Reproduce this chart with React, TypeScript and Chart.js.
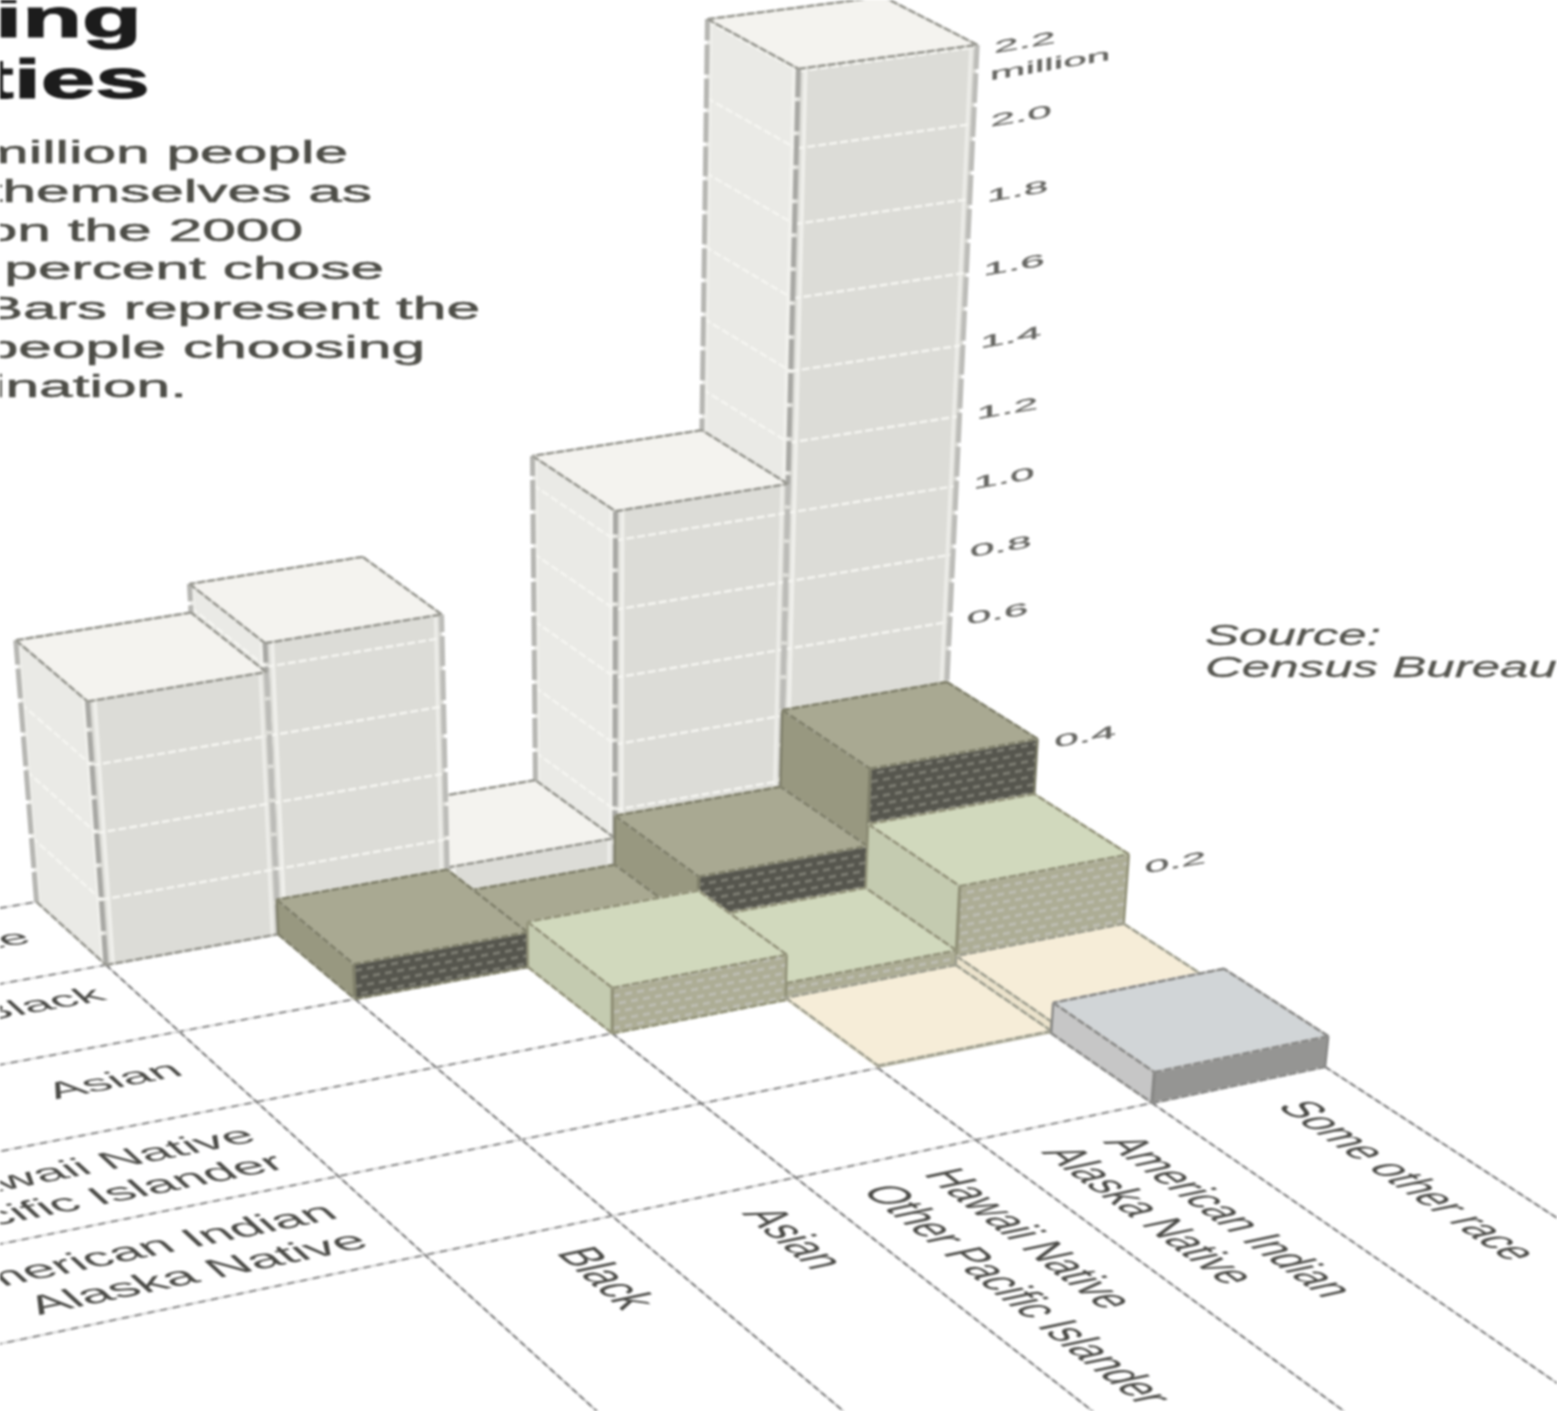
import React, { useEffect, useRef } from "react";
import { Chart, registerables } from "chart.js";

Chart.register(...registerables);

// ---------- data (millions of people) ----------
const rowCategories = ["White", "Black", "Asian", "Hawaii Native|Other Pacific Islander", "American Indian|Alaska Native"];
const columnCategories = ["Black", "Asian", "Hawaii Native|Other Pacific Islander", "American Indian|Alaska Native", "Some other race"];
const whiteValues = [0.785, 0.868, 0.113, 1.083, 2.206];
const blackValues = [null, 0.107, 0.03, 0.182, 0.417];
const asianValues = [null, null, 0.139, 0.052, 0.249];
const hawaiiValues = [null, null, null, 0.007, 0.035];
const amIndianValues = [null, null, null, null, 0.094];
const tickValues = [0.2, 0.4, 0.6, 0.8, 1.0, 1.2, 1.4, 1.6, 1.8, 2.0, 2.2];
const titleLines = ["ing", "ties"];
const bodyLines = ["million people", "themselves as", "on the 2000", "percent chose", "Bars represent the", "people choosing", "combination."];
const sourceLines = ["Source:", "Census Bureau"];

const rowValues = [whiteValues, blackValues, asianValues, hawaiiValues, amIndianValues];

// ---------- styles per row ----------
const rowStyles = [
  { top: "#f4f3ef", left: "#eaeae6", right: "#dcdcd7", edge: "#96968f", under: "#c6c6c0", dot: null },
  { top: "#a9a992", left: "#989880", right: "#56564e", edge: "#7f7f6a", under: "#a3a390", dot: "#7c7c72" },
  { top: "#d1d9bd", left: "#c4cbb0", right: "#adad95", edge: "#929279", under: "#b8baa4", dot: "#bdbdb2" },
  { top: "#f6edd8", left: "#ece3cc", right: "#aaa893", edge: "#9d9d8e", under: "#c4c2b0", dot: null },
  { top: "#d1d5d7", left: "#c6c6c6", right: "#959593", edge: "#888886", under: "#b4b4b2", dot: null },
];

// ---------- camera: floor homography + vertical vanishing point ----------
const floorCorners = [[106, 965], [779, 845], [1152, 1103], [425, 1255]]; // (c,r) = (0,1),(4,1),(4,5),(0,5)
const vanish = [600, 8000];
const heightGain = 0.046;
const depthDamp = 0.6;
const heightCurve = 1.0;
const columnWarp = 0.007;

function makeHomography(q: number[][]) {
  const [[x0, y0], [x1, y1], [x2, y2], [x3, y3]] = q;
  const dx1 = x1 - x2, dx2 = x3 - x2, sx = x0 - x1 + x2 - x3;
  const dy1 = y1 - y2, dy2 = y3 - y2, sy = y0 - y1 + y2 - y3;
  const den = dx1 * dy2 - dx2 * dy1;
  const g = (sx * dy2 - dx2 * sy) / den, h = (dx1 * sy - sx * dy1) / den;
  const a = x1 - x0 + g * x1, b = x3 - x0 + h * x3, d = y1 - y0 + g * y1, e = y3 - y0 + h * y3;
  return (u: number, v: number) => {
    const w = g * u + h * v + 1;
    return [(a * u + b * v + x0) / w, (d * u + e * v + y0) / w, w];
  };
}
const unitFloor = makeHomography(floorCorners);
const floor = (c: number, r: number) => unitFloor((c + columnWarp * c * (c - 4)) / 4, (r - 1) / 4);
function project(c: number, r: number, v = 0) {
  const [x, y, w] = floor(c, r);
  const k = (v * heightGain) / (1 + depthDamp * (w - 1));
  const t = k / (1 - heightCurve * k);
  return { x: x + (x - vanish[0]) * t, y: y + (y - vanish[1]) * t };
}

const FONT = '"Liberation Sans", Arial, sans-serif';

function makeDots(ctx: CanvasRenderingContext2D, base: string, dot: string) {
  const tile = document.createElement("canvas");
  tile.width = 24; tile.height = 16;
  const t = tile.getContext("2d")!;
  t.fillStyle = base; t.fillRect(0, 0, 24, 16);
  t.fillStyle = dot;
  t.fillRect(1, 1, 7, 3);
  t.fillRect(13, 1, 7, 3);
  t.fillRect(7, 9, 7, 3);
  t.fillRect(19, 9, 5, 3);
  t.fillRect(0, 9, 2, 3);
  const p = ctx.createPattern(tile, "repeat")!;
  p.setTransform(new DOMMatrix([1, -0.18, 0, 1, 0, 0]));
  return p;
}

const bars3d = {
  id: "bars3d",
  beforeDatasetsDraw(chart: any) {
    const { ctx, scales } = chart;
    const X = (p: { x: number; y: number }) => scales.x.getPixelForValue(p.x);
    const Y = (p: { x: number; y: number }) => scales.y.getPixelForValue(p.y);

    const poly = (pts: any[], fill: any) => {
      ctx.beginPath();
      pts.forEach((p, i) => (i ? ctx.lineTo(X(p), Y(p)) : ctx.moveTo(X(p), Y(p))));
      ctx.closePath();
      ctx.fillStyle = fill;
      ctx.fill();
    };
    const seg = (a: any, b: any, color: string, width: number, dash: number[] = []) => {
      ctx.beginPath();
      ctx.moveTo(X(a), Y(a));
      ctx.lineTo(X(b), Y(b));
      ctx.strokeStyle = color;
      ctx.lineWidth = width;
      ctx.setLineDash(dash);
      ctx.stroke();
      ctx.setLineDash([]);
    };
    const outline = (a: any, b: any, st: any, w: number) => {
      seg(a, b, st.under, w);
      seg(a, b, st.edge, w, [7, 3]);
    };

    // floor lines
    for (let r = 0; r <= 5; r++) {
      const end = Math.max(r - 1, 0);
      seg(project(-5, r), project(end, r), "#dadada", 2);
      seg(project(-5, r), project(end, r), "#8c8c8c", 2, [7, 6]);
    }
    for (let c = 0; c <= 5; c++) {
      const start = Math.min(c + 1, 5);
      seg(project(c, start), project(c, 11), "#c4c4c4", 2);
      seg(project(c, start), project(c, 11), "#7e7e7e", 2, [6, 4]);
    }

    // bars, back to front
    rowValues.forEach((vals, i) => {
      const st = rowStyles[i];
      const rightFill = st.dot ? makeDots(ctx, st.right, st.dot) : st.right;
      for (let j = vals.length - 1; j >= 0; j--) {
        const v = vals[j];
        if (v == null) continue;
        const bl = project(j, i, 0), bf = project(j, i + 1, 0), br = project(j + 1, i + 1, 0);
        const tl = project(j, i, v), tf = project(j, i + 1, v), tr = project(j + 1, i + 1, v), tb = project(j + 1, i, v);
        poly([bl, bf, tf, tl], st.left);
        poly([bf, br, tr, tf], rightFill);
        poly([tl, tf, tr, tb], st.top);

        if (i === 0) {
          // pale strips beside the vertical edges
          seg(project(j + 0.04, i + 1, 0), project(j + 0.04, i + 1, v), "#efefeb", 4);
          seg(project(j + 0.965, i + 1, 0), project(j + 0.965, i + 1, v), "#ececE8", 3.5);
          seg(project(j, i + 0.95, 0), project(j, i + 0.95, v), "#f1f1ed", 3.5);
          seg(project(j, i + 0.045, 0), project(j, i + 0.045, v), "#efefeb", 3);
          // value rules on the faces
          for (const t of tickValues) {
            if (t >= v) continue;
            seg(project(j, i, t), project(j, i + 1, t), "#f6f6f2", 2.4, [8, 3]);
            seg(project(j, i + 1, t), project(j + 1, i + 1, t), "#f6f6f2", 2.4, [8, 3]);
          }
          seg(bl, tl, "#b6b6b2", 5, [30, 4]);
          seg(bf, tf, "#a8a8a4", 5, [30, 4]);
          seg(br, tr, "#bcbcb8", 5, [30, 4]);
        } else if (v > 0.02) {
          seg(bf, tf, st.edge, 3.4);
          seg(br, tr, st.edge, 2.4);
          seg(bl, tl, st.edge, 2.4);
        }
        // outlines
        const w = 2.4;
        outline(tl, tf, st, w);
        outline(tf, tr, st, w);
        outline(tr, tb, st, w);
        outline(tb, tl, st, w);
        if (v > 0.02) {
          outline(bl, bf, st, w);
          outline(bf, br, st, w);
        }
      }
    });
  },
  afterDatasetsDraw(chart: any) {
    const { ctx, scales } = chart;
    const X = (v: number) => scales.x.getPixelForValue(v);
    const Y = (v: number) => scales.y.getPixelForValue(v);

    const flat = (text: string, px: number, py: number, size: number, sx: number, opts: any = {}) => {
      ctx.save();
      ctx.transform(sx, (opts.slope || 0) * sx, 0, 1, X(px), Y(py));
      ctx.font = `${opts.style || "normal"} ${size}px ${FONT}`;
      ctx.fillStyle = opts.color || "#4f4f4b";
      ctx.textAlign = opts.align || "left";
      ctx.textBaseline = "alphabetic";
      ctx.fillText(text, 0, 0);
      if (opts.heavy) {
        ctx.strokeStyle = ctx.fillStyle;
        ctx.lineWidth = opts.heavy;
        ctx.strokeText(text, 0, 0);
      }
      ctx.restore();
    };

    // title and body
    flat(titleLines[0], -5, 37, 56, 1.75, { style: "bold", color: "#1c1c1c", heavy: 1.2 });
    flat(titleLines[1], -19, 98, 56, 1.75, { style: "bold", color: "#1c1c1c", heavy: 1.2 });
    const bodyEnds = [348, 372, 303, 384, 480, 425, 187];
    const bodyBases = [163, 202, 241, 279, 319, 358, 397];
    bodyLines.forEach((t, i) => flat(t, bodyEnds[i], bodyBases[i], 31, 1.95, { align: "right", color: "#4d4d47", heavy: 0.5 }));

    // source
    flat(sourceLines[0], 1205, 645, 29, 1.76, { style: "italic", color: "#55554f", heavy: 0.3 });
    flat(sourceLines[1], 1205, 677, 29, 1.76, { style: "italic", color: "#55554f", heavy: 0.3 });

    // value ticks on the staircase of right corners
    tickValues.forEach((t) => {
      const row = t >= 0.6 ? 0 : t >= 0.4 ? 1 : 2;
      const p = project(5, row + 1, t);
      const label = t.toFixed(1);
      const lift = t === 2.2 ? 6 : 3;
      flat(label, p.x + 17, p.y + lift, 17, 2.6, { slope: -0.17, color: "#666662", heavy: 0.3 });
      if (t === 2.2) flat("million", p.x + 13, p.y + 33, 17, 2.5, { slope: -0.17, color: "#666662", heavy: 0.3 });
    });

    // labels lying on the floor
    const k = 0.0145;
    const onFloor = (text: string, c: number, r: number, alongRow: boolean, align: string) => {
      const o = floor(c, r);
      const dc = floor(c + 0.5, r), dr = floor(c, r + 0.5);
      const ec = [(dc[0] - o[0]) * 2 * k, (dc[1] - o[1]) * 2 * k];
      const er = [(dr[0] - o[0]) * 2 * k, (dr[1] - o[1]) * 2 * k];
      ctx.save();
      if (alongRow) ctx.transform(ec[0], ec[1], er[0], er[1], X(o[0]), Y(o[1]));
      else ctx.transform(er[0], er[1], -ec[0], -ec[1], X(o[0]), Y(o[1]));
      ctx.font = `20px ${FONT}`;
      ctx.fillStyle = "#4a4a46";
      ctx.textAlign = align;
      ctx.textBaseline = "middle";
      ctx.fillText(text, 0, 0);
      ctx.restore();
    };
    const rowAnchors = [[0.45], [1.36], [2.45], [3.36, 3.72], [4.36, 4.72]];
    const rowEnds = [-0.23, -0.17, -0.19, -0.18, -0.19];
    rowCategories.forEach((name, i) => {
      name.split("|").forEach((line, n) => onFloor(line, rowEnds[i], rowAnchors[i][n], true, "right"));
    });
    const colAnchors = [[0.65], [1.65], [2.65, 2.29], [3.62, 3.29], [4.6]];
    const colStarts = [[5.25], [5.25], [5.24, 5.27], [5.3, 5.27], [5.31]];
    columnCategories.forEach((name, j) => {
      name.split("|").forEach((line, n) => onFloor(line, colAnchors[j][n], colStarts[j][n], false, "left"));
    });
  },
};

export default function App() {
  const ref = useRef<HTMLCanvasElement>(null);
  useEffect(() => {
    const datasets = rowValues.map((vals, i) => ({
      label: rowCategories[i],
      data: vals.flatMap((v, j) => (v == null ? [] : [project(j, i + 1, v)])),
      pointRadius: 0,
      showLine: false,
    }));
    const chart = new Chart(ref.current!, {
      type: "scatter",
      data: { datasets },
      options: {
        animation: false,
        responsive: false,
        events: [],
        layout: { padding: 0 },
        plugins: { legend: { display: false }, tooltip: { enabled: false }, title: { display: false } },
        scales: {
          x: { type: "linear", min: 0, max: 1557, display: false },
          y: { type: "linear", min: 0, max: 1411, reverse: true, display: false },
        },
      },
      plugins: [bars3d],
    } as any);
    return () => chart.destroy();
  }, []);
  return (
    <div style={{ position: "absolute", left: 0, top: 0, width: 1557, height: 1411, overflow: "hidden", background: "#fff" }}>
      <canvas ref={ref} width={1557} height={1411} style={{ display: "block", filter: "blur(0.8px)" }} />
    </div>
  );
}
